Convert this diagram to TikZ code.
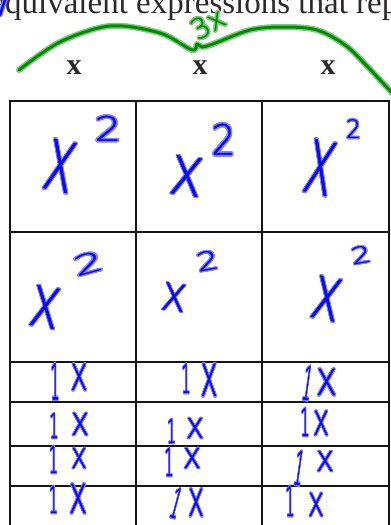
\documentclass[tikz,border=0pt]{standalone}
\usepackage{fontspec}
\usepackage{graphicx}
\usepackage[copies]{contour}
\setmainfont{Liberation Serif}
\newfontfamily\hwfont{DejaVuSans-ExtraLight.ttf}[FakeBold=1]
\contourlength{1.4pt}
\contournumber{16}
\definecolor{hwblue}{RGB}{10,10,235}
\definecolor{hwhalo}{RGB}{130,130,250}
\definecolor{hwgreen}{RGB}{0,140,0}
\definecolor{hwgreenhalo}{RGB}{125,200,125}
\definecolor{printc}{RGB}{45,40,40}
\newcommand\hwg[4]{\resizebox{#2pt}{#3pt}{\fontsize{#1pt}{#1pt}\hwfont\contour{hwhalo}{#4}}}
\begin{document}
\begin{tikzpicture}[x=1pt,y=-1pt,
  hw/.style={text=hwblue, inner sep=0pt, outer sep=0pt},
  tbl/.style={draw={rgb,255:red,20;green,20;blue,20}, line width=1.8pt},
  lbl/.style={text=printc, inner sep=0pt, font=\fontsize{30pt}{30pt}\selectfont\bfseries},
  brace/.style={draw=hwgreen, line width=3pt, line cap=round, line join=round,
    preaction={draw=hwgreenhalo, line width=6pt, line cap=round, line join=round}},
  bluestroke/.style={draw=hwblue, line width=2.5pt, line cap=round,
    preaction={draw=hwhalo, line width=5pt, line cap=round}}]
\useasboundingbox (0,0) rectangle (391,525);
\clip (0,0) rectangle (391,525);
\fill[white] (0,0) rectangle (391,525);

% printed heading (cut off)
\node[anchor=base west, inner sep=0pt, text=printc, font=\fontsize{33pt}{33pt}\selectfont] (title) at (-9.7,13) {equivalent expressions that rep};
\draw[bluestroke] (0,15) -- (5,0);

% printed x labels
\node[lbl] (l1) at (74,68) {x};
\node[lbl] (l2) at (200,68) {x};
\node[lbl] (l3) at (328,68) {x};

% green brace and 3x
\draw[brace] plot[smooth, tension=0.55] coordinates {(19,70) (60,42) (110,26) (160,33) (192,50) (197,44) (202,47) (213,44) (250,30) (283,27) (317,30) (345,45) (365,64) (395,96)};
\node[text=hwgreen, inner sep=0pt, rotate=30] (three) at (208,24) {\fontsize{28pt}{28pt}\hwfont\contourlength{1.5pt}\contour{hwgreenhalo}{3x}};

% table
\draw[tbl] (10,101) rectangle (389,540);
\draw[tbl] (136,101) -- (136,540);
\draw[tbl] (262,101) -- (262,540);
\draw[tbl] (10,232) -- (389,232);
\draw[tbl] (10,362) -- (389,362);
\draw[tbl] (10,402) -- (389,402);
\draw[tbl] (10,446) -- (389,446);
\draw[tbl] (10,486) -- (389,486);

% row 1: x^2
\node[hw, rotate=-12] (x11) at (60,166.5) {\hwg{90}{30}{50}{x}};
\node[hw] (s11) at (108,129) {\hwg{35}{27}{25}{2}};
\node[hw, rotate=-8] (x12) at (186.5,176.5) {\hwg{90}{33}{38}{x}};
\node[hw] (s12) at (223.5,140) {\hwg{35}{24}{31}{2}};
\node[hw, rotate=-12] (x13) at (320,168) {\hwg{90}{29}{53}{x}};
\node[hw] (s13) at (353.5,129) {\hwg{35}{15}{19}{2}};

% row 2: x^2
\node[hw, rotate=-10] (x21) at (45,307.5) {\hwg{90}{30}{40}{x}};
\node[hw, rotate=15] (s21) at (88.5,263.5) {\hwg{35}{30}{20}{2}};
\node[hw, rotate=-8] (x22) at (174,297.5) {\hwg{90}{25}{27}{x}};
\node[hw, rotate=10] (s22) at (207.5,261) {\hwg{35}{22}{19}{2}};
\node[hw, rotate=-12] (x23) at (326.5,299) {\hwg{90}{29}{42}{x}};
\node[hw, rotate=10] (s23) at (361,255) {\hwg{35}{20}{17}{2}};

% rows 3-6: 1x
\node[hw] (o31) at (55,382) {\hwg{50}{9}{36}{1}};
\node[hw] (e31) at (79,377.5) {\hwg{55}{17}{26}{x}};
\node[hw] (o32) at (186,379) {\hwg{50}{9}{29}{1}};
\node[hw] (e32) at (209,380.5) {\hwg{55}{17}{32}{x}};
\node[hw, rotate=-8] (o33) at (307.5,383.5) {\hwg{50}{9}{34}{1}};
\node[hw] (e33) at (326.5,382.5) {\hwg{55}{21}{26}{x}};

\node[hw] (o41) at (54,426) {\hwg{50}{9}{25}{1}};
\node[hw] (e41) at (80,424.5) {\hwg{55}{18}{22}{x}};
\node[hw] (o42) at (171.5,431.5) {\hwg{50}{9}{24}{1}};
\node[hw] (e42) at (195,428.5) {\hwg{55}{18}{20}{x}};
\node[hw] (o43) at (305,422.5) {\hwg{50}{9}{28}{1}};
\node[hw] (e43) at (321,423.5) {\hwg{55}{16}{24}{x}};

\node[hw] (o51) at (53.5,460) {\hwg{50}{9}{27}{1}};
\node[hw] (e51) at (79,458.5) {\hwg{55}{16}{20}{x}};
\node[hw] (o52) at (169,462.5) {\hwg{50}{9}{28}{1}};
\node[hw] (e52) at (192,458.5) {\hwg{55}{18}{20}{x}};
\node[hw, rotate=-8] (o53) at (299,468.5) {\hwg{50}{9}{34}{1}};
\node[hw] (e53) at (325,461.5) {\hwg{55}{18}{20}{x}};

\node[hw] (o61) at (53.5,500) {\hwg{50}{9}{27}{1}};
\node[hw] (e61) at (78,499) {\hwg{55}{18}{29}{x}};
\node[hw, rotate=-15] (o62) at (176,503.5) {\hwg{50}{9}{30}{1}};
\node[hw] (e62) at (196,503) {\hwg{55}{16}{27}{x}};
\node[hw] (o63) at (290,501.5) {\hwg{50}{9}{30}{1}};
\node[hw] (e63) at (316,505) {\hwg{55}{16}{23}{x}};
\end{tikzpicture}
\end{document}
